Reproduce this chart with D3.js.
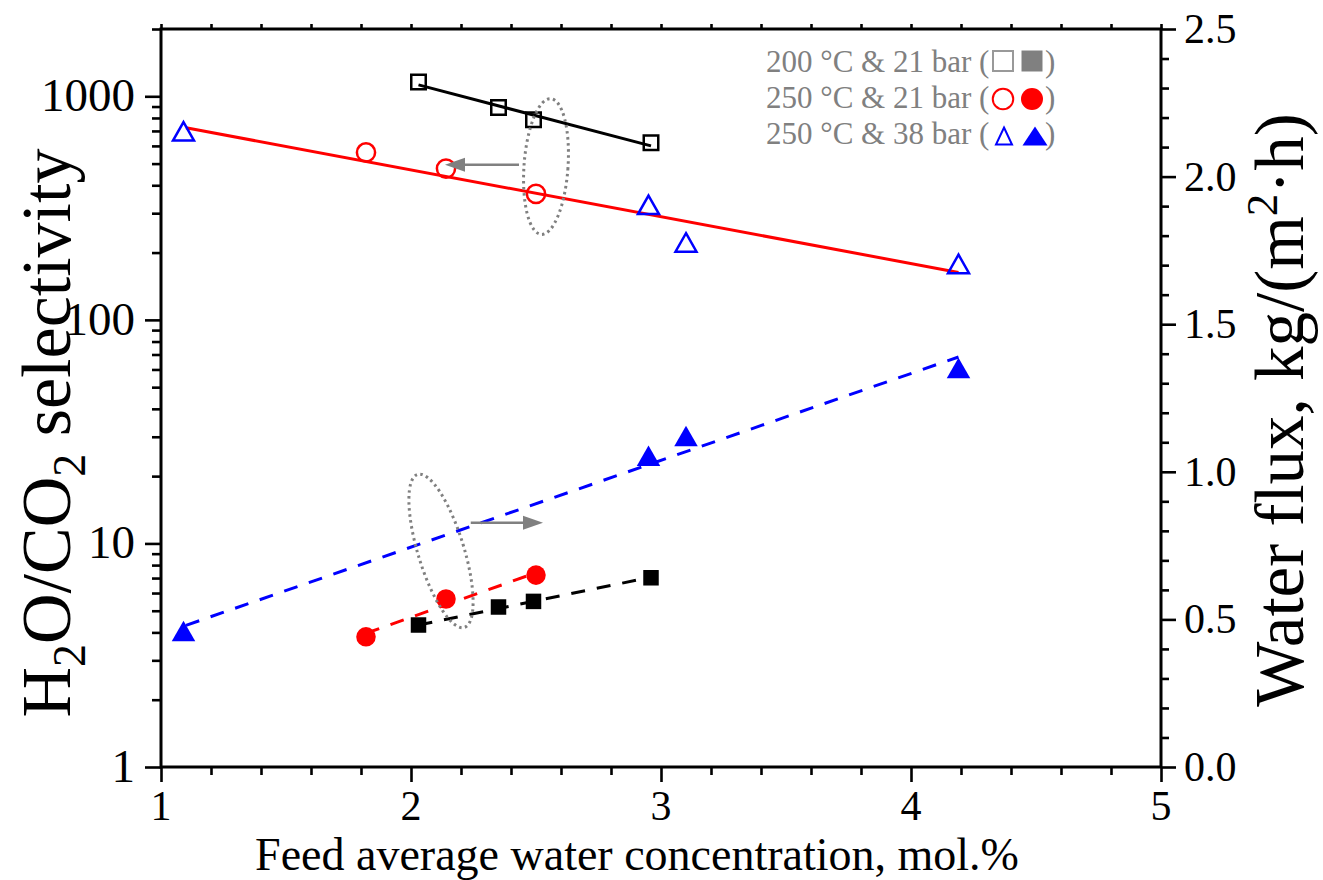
<!DOCTYPE html>
<html>
<head>
<meta charset="utf-8">
<script src="https://cdnjs.cloudflare.com/ajax/libs/d3/7.8.5/d3.min.js"></script>
<style>
body { margin: 0; background: #fff; }
svg { font-family: "Liberation Serif", "Times New Roman", serif; }
</style>
</head>
<body>
<div id="chart"></div>
<script>
// values
var xTicks = [1, 2, 3, 4, 5];
var leftTicks = [1, 10, 100, 1000];
var rightTicks = [0, 0.5, 1.0, 1.5, 2.0, 2.5];

// 200 C & 21 bar
var feed200 = [2.03, 2.35, 2.49, 2.96];
var sel200 = [1158, 891, 785, 620];
var flux200 = [0.481, 0.542, 0.561, 0.641];

// 250 C & 21 bar
var feed250 = [1.82, 2.14, 2.50];
var sel250 = [561, 475, 366];
var flux250 = [0.441, 0.569, 0.650];

// 250 C & 38 bar
var feed38 = [1.09, 2.95, 3.10, 4.19];
var sel38 = [697, 327, 222, 178];
var flux38 = [0.461, 1.054, 1.121, 1.352];

// trend lines (end points)
var selFit200X = [2.03, 2.96], selFit200Y = [1125, 600];
var selFitAllX = [1.10, 4.19], selFitAllY = [723, 163];
var fluxFit200X = [2.03, 2.96], fluxFit200Y = [0.481, 0.643];
var fluxFit250X = [1.82, 2.50], fluxFit250Y = [0.453, 0.658];
var fluxFit38X = [1.10, 4.19], fluxFit38Y = [0.48, 1.389];

var legendLabels = ["200 \u00B0C & 21 bar (", "250 \u00B0C & 21 bar (", "250 \u00B0C & 38 bar ("];

var svgWidth = 1323;
var svgHeight = 880;

var margin = {
    top : 29,
    right : 162,
    bottom : 113,
    left : 161
};

var width = svgWidth - margin.left - margin.right;
var height = svgHeight - margin.top - margin.bottom;

var svg = d3.select("#chart")
    .append("svg")
    .attr("width", svgWidth)
    .attr("height", svgHeight);

var chartGroup = svg.append("g")
    .attr("transform", `translate(${margin.left}, ${margin.top})`);

// scales
var xScale = d3.scaleLinear().domain([1, 5]).range([0, width]);
var yLeft = d3.scaleLog().domain([1, 2000]).range([height, 0]);
var yRight = d3.scaleLinear().domain([0, 2.5]).range([height, 0]);

// minor tick positions
var xMinor = d3.range(1, 5.001, 0.2).filter(d => Math.abs(d - Math.round(d)) > 0.01);
var leftMinor = [];
[1, 10, 100, 1000].forEach(function(p) {
    for (var m = 2; m <= 9; m++) {
        if (m * p <= 2000) leftMinor.push(m * p);
    }
});
var rightMinor = d3.range(0, 2.501, 0.1).filter(d => Math.abs(d * 2 - Math.round(d * 2)) > 0.01);

function styleAxis(g) {
    g.select(".domain").remove();
    g.selectAll("line").attr("stroke", "#000").attr("stroke-width", 2.6);
}

// bottom
chartGroup.append("g").attr("transform", `translate(0,${height})`)
    .call(d3.axisBottom(xScale).tickValues(xTicks).tickSize(15).tickFormat("")).call(styleAxis);
chartGroup.append("g").attr("transform", `translate(0,${height})`)
    .call(d3.axisBottom(xScale).tickValues(xMinor).tickSize(8).tickFormat("")).call(styleAxis);
// top
chartGroup.append("g")
    .call(d3.axisTop(xScale).tickValues(xTicks.concat(xMinor)).tickSize(5).tickFormat("")).call(styleAxis);
// left
chartGroup.append("g")
    .call(d3.axisLeft(yLeft).tickValues(leftTicks).tickSize(16).tickFormat("")).call(styleAxis);
chartGroup.append("g")
    .call(d3.axisLeft(yLeft).tickValues(leftMinor).tickSize(9).tickFormat("")).call(styleAxis);
// right
chartGroup.append("g").attr("transform", `translate(${width},0)`)
    .call(d3.axisRight(yRight).tickValues(rightTicks).tickSize(15).tickFormat("")).call(styleAxis);
chartGroup.append("g").attr("transform", `translate(${width},0)`)
    .call(d3.axisRight(yRight).tickValues(rightMinor).tickSize(8).tickFormat("")).call(styleAxis);

// frame
chartGroup.append("rect")
    .attr("width", width)
    .attr("height", height)
    .attr("fill", "none")
    .attr("stroke", "#000")
    .attr("stroke-width", 3);

// tick labels
chartGroup.selectAll(".xlab")
    .data(xTicks)
    .enter()
    .append("text")
    .attr("x", d => xScale(d))
    .attr("y", height + 52.5)
    .attr("text-anchor", "middle")
    .style("font-size", "42px")
    .text(d => d);

chartGroup.selectAll(".ylab")
    .data(leftTicks)
    .enter()
    .append("text")
    .attr("x", -26)
    .attr("y", d => yLeft(d) + 15)
    .attr("text-anchor", "end")
    .style("font-size", "47px")
    .text(d => d);

chartGroup.selectAll(".rlab")
    .data(rightTicks)
    .enter()
    .append("text")
    .attr("x", width + 23)
    .attr("y", d => yRight(d) + 14)
    .style("font-size", "42px")
    .text(d => d.toFixed(1));

// axis titles
svg.append("text")
    .attr("x", 637)
    .attr("y", 869.5)
    .attr("text-anchor", "middle")
    .style("font-size", "46px")
    .text("Feed average water concentration, mol.%");

var leftTitle = svg.append("text")
    .attr("transform", "translate(70, 433) rotate(-90)")
    .attr("text-anchor", "middle")
    .style("font-size", "70px");
leftTitle.append("tspan").text("H");
leftTitle.append("tspan").attr("dy", 15).style("font-size", "46px").text("2");
leftTitle.append("tspan").attr("dy", -15).text("O/CO");
leftTitle.append("tspan").attr("dy", 15).style("font-size", "46px").text("2");
leftTitle.append("tspan").attr("dy", -15).text(" selectivity");

var rightTitle = svg.append("text")
    .attr("transform", "translate(1303, 410) rotate(-90)")
    .attr("text-anchor", "middle")
    .style("font-size", "69px");
rightTitle.append("tspan").text("Water flux, kg/(m");
rightTitle.append("tspan").attr("dy", -26).style("font-size", "45px").text("2");
rightTitle.append("tspan").attr("dy", 26).text("\u00B7h)");

// lines
var line = d3.line().x(d => xScale(d[0])).y(d => d[1]);

function addLine(xs, ys, yScale, color, dashed) {
    chartGroup.append("path")
        .datum(d3.zip(xs, ys.map(v => yScale(v))))
        .attr("d", line)
        .attr("fill", "none")
        .attr("stroke", color)
        .attr("stroke-width", 3)
        .attr("stroke-dasharray", dashed ? "14,12" : null);
}

addLine(selFit200X, selFit200Y, yLeft, "#000", false);
addLine(selFitAllX, selFitAllY, yLeft, "#ff0000", false);
addLine(fluxFit38X, fluxFit38Y, yRight, "#0000ff", true);
addLine(fluxFit250X, fluxFit250Y, yRight, "#ff0000", true);
addLine(fluxFit200X, fluxFit200Y, yRight, "#000", true);

// markers
function triPath(w, h) {
    return `M0,${-h / 2}L${w / 2},${h / 2}L${-w / 2},${h / 2}Z`;
}
function sqPath(s) {
    return `M${-s / 2},${-s / 2}h${s}v${s}h${-s}Z`;
}

function addMarkers(xs, ys, yScale, shape, color, filled) {
    var pts = d3.zip(xs, ys);
    var sel = chartGroup.append("g").selectAll("path")
        .data(pts)
        .enter()
        .append("path")
        .attr("transform", d => `translate(${xScale(d[0])},${yScale(d[1])})`);
    if (shape === "square") sel.attr("d", filled ? sqPath(15.5) : sqPath(14.5));
    if (shape === "circle") sel.attr("d", d3.symbol().type(d3.symbolCircle).size(filled ? 300 : 260));
    if (shape === "triangle") sel.attr("d", filled ? triPath(23.5, 20.5) : triPath(21, 18.5));
    sel.attr("fill", filled ? color : "none")
        .attr("stroke", filled ? "none" : color)
        .attr("stroke-width", 2.5);
}

addMarkers(feed200, sel200, yLeft, "square", "#000", false);
addMarkers(feed250, sel250, yLeft, "circle", "#ff0000", false);
addMarkers(feed38, sel38, yLeft, "triangle", "#0000ff", false);
addMarkers(feed200, flux200, yRight, "square", "#000", true);
addMarkers(feed250, flux250, yRight, "circle", "#ff0000", true);
addMarkers(feed38, flux38, yRight, "triangle", "#0000ff", true);

// dotted ellipses and arrows
chartGroup.append("ellipse")
    .attr("transform", `translate(${xScale(2.54)},${yLeft(485)}) rotate(4)`)
    .attr("rx", 22).attr("ry", 68)
    .attr("fill", "none").attr("stroke", "#808080")
    .attr("stroke-width", 3).attr("stroke-dasharray", "2.5,3.5");

chartGroup.append("ellipse")
    .attr("transform", `translate(${xScale(2.12)},${yRight(0.732)}) rotate(-17)`)
    .attr("rx", 23).attr("ry", 80)
    .attr("fill", "none").attr("stroke", "#808080")
    .attr("stroke-width", 3).attr("stroke-dasharray", "2.5,3.5");

function addArrow(x0, x1, yPix) {
    var dir = x1 > x0 ? 1 : -1;
    var tip = xScale(x1);
    chartGroup.append("line")
        .attr("x1", xScale(x0)).attr("x2", tip - dir * 18)
        .attr("y1", yPix).attr("y2", yPix)
        .attr("stroke", "#808080").attr("stroke-width", 2.5);
    chartGroup.append("path")
        .attr("d", `M${tip},${yPix}L${tip - dir * 20},${yPix - 7}L${tip - dir * 20},${yPix + 7}Z`)
        .attr("fill", "#808080");
}
addArrow(2.432, 2.136, yLeft(494));
addArrow(2.239, 2.528, yRight(0.827));

// legend
var legend = svg.append("g");
legendLabels.forEach(function(lab, i) {
    var yb = 72 + i * 36;
    legend.append("text")
        .attr("x", 766).attr("y", yb)
        .style("font-size", "31px").attr("fill", "#808080")
        .text(lab);
    legend.append("text")
        .attr("x", 1045).attr("y", yb)
        .style("font-size", "31px").attr("fill", "#808080")
        .text(")");
});
var lg = [
    {y: 61, open: sqPath(20), fill: sqPath(21), oc: "#999", fc: "#808080"},
    {y: 99, open: d3.symbol().type(d3.symbolCircle).size(330)(), fill: d3.symbol().type(d3.symbolCircle).size(380)(), oc: "#ff0000", fc: "#ff0000"},
    {y: 136, open: triPath(16, 17), fill: triPath(25, 19), oc: "#0000ff", fc: "#0000ff"}
];
lg.forEach(function(m, i) {
    legend.append("path").attr("d", m.open)
        .attr("transform", `translate(${i === 2 ? 1004 : 1003},${m.y})`)
        .attr("fill", "none").attr("stroke", m.oc).attr("stroke-width", 2);
    legend.append("path").attr("d", m.fill)
        .attr("transform", `translate(${i === 2 ? 1035 : 1032},${m.y})`)
        .attr("fill", m.fc);
});
</script>
</body>
</html>
